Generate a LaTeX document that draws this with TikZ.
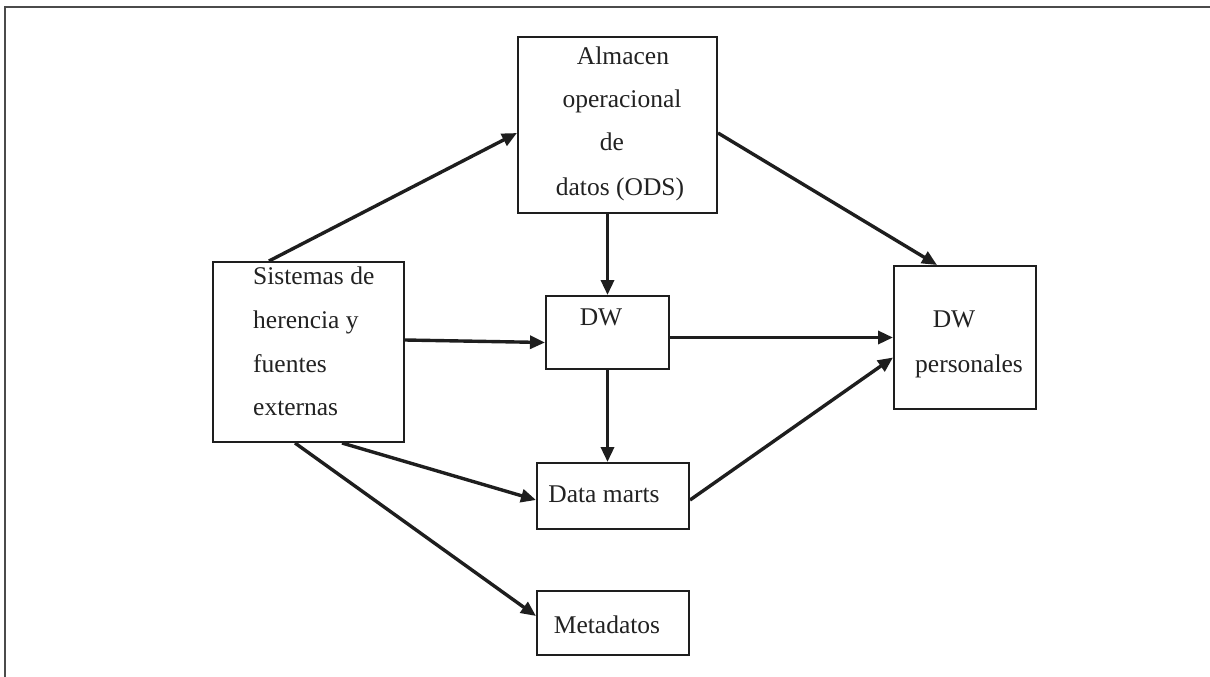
\documentclass[tikz,border=0pt]{standalone}
\usepackage{fontspec}
\setmainfont{Liberation Serif}
\usetikzlibrary{arrows.meta,calc}
\definecolor{ink}{HTML}{1E1E1E}
\definecolor{txt}{HTML}{222222}
\tikzset{
  box/.style={draw=ink, line width=2pt, fill=white, inner sep=0pt},
  lbl/.style={anchor=base, inner sep=0pt, text=txt, font=\fontsize{25.5}{30}\selectfont},
  lblw/.style={lbl, anchor=base west},
  arr/.style={draw=ink, line width=3.4pt, -{Triangle[length=15pt,width=13pt]}},
}
\begin{document}
\begin{tikzpicture}[x=1pt,y=-1pt]
\useasboundingbox (0,0) rectangle (1210,677);
% outer frame (top and left only)
\draw[line width=2pt, draw=ink!80] (5,677) -- (5,7) -- (1210,7);

% boxes
\node[box, minimum width=191pt, minimum height=180pt] (sis) at (308.5,352) {};
\node[box, minimum width=199pt, minimum height=176pt] (ods) at (617.5,125) {};
\node[box, minimum width=123pt, minimum height=73pt] (dw) at (607.5,332.5) {};
\node[box, minimum width=142pt, minimum height=143pt] (dwp) at (965,337.5) {};
\node[box, minimum width=152pt, minimum height=66pt] (dm) at (613,496) {};
\node[box, minimum width=152pt, minimum height=64pt] (meta) at (613,623) {};

% texts
\node[lblw] (sis1) at (253,284) {Sistemas de};
\node[lblw] (sis2) at (253,328) {herencia y};
\node[lblw] (sis3) at (253,372) {fuentes};
\node[lblw] (sis4) at (253,415) {externas};

\node[lbl] (ods1) at (623,65) {Almacen};
\node[lbl] (ods2) at (622,107) {operacional};
\node[lbl] (ods3) at (612,150) {de};
\node[lbl] (ods4) at (620,195) {datos (ODS)};

\node[lbl] (dwt) at (601,325) {DW};
\node[lbl] (dwp1) at (954,327) {DW};
\node[lbl] (dwp2) at (969,372) {personales};
\node[lbl] (dmt) at (604,502) {Data marts};
\node[lbl] (metat) at (607,633) {Metadatos};

% connectors
\draw[arr] ([xshift=57pt]sis.north west) -- ([yshift=-8pt]ods.west);
\draw[arr] ([yshift=-8pt]ods.east) -- ([xshift=-28pt]dwp.north);
\draw[arr] ([xshift=-10pt]ods.south) -- (dw.north);
\draw[arr] ([yshift=12pt]sis.east) -- ([yshift=-10pt]dw.west);
\draw[arr] ([yshift=-5pt]dw.east) -- (dwp.west);
\draw[arr] (dw.south) -- ([xshift=-5.5pt]dm.north);
\draw[arr] ([xshift=130pt]sis.south west) -- ([yshift=-4pt]dm.west);
\draw[arr] ([xshift=83pt]sis.south west) -- ([yshift=7pt]meta.west);
\draw[arr] ([yshift=-4pt]dm.east) -- ([yshift=-20pt]dwp.west);
\end{tikzpicture}
\end{document}
